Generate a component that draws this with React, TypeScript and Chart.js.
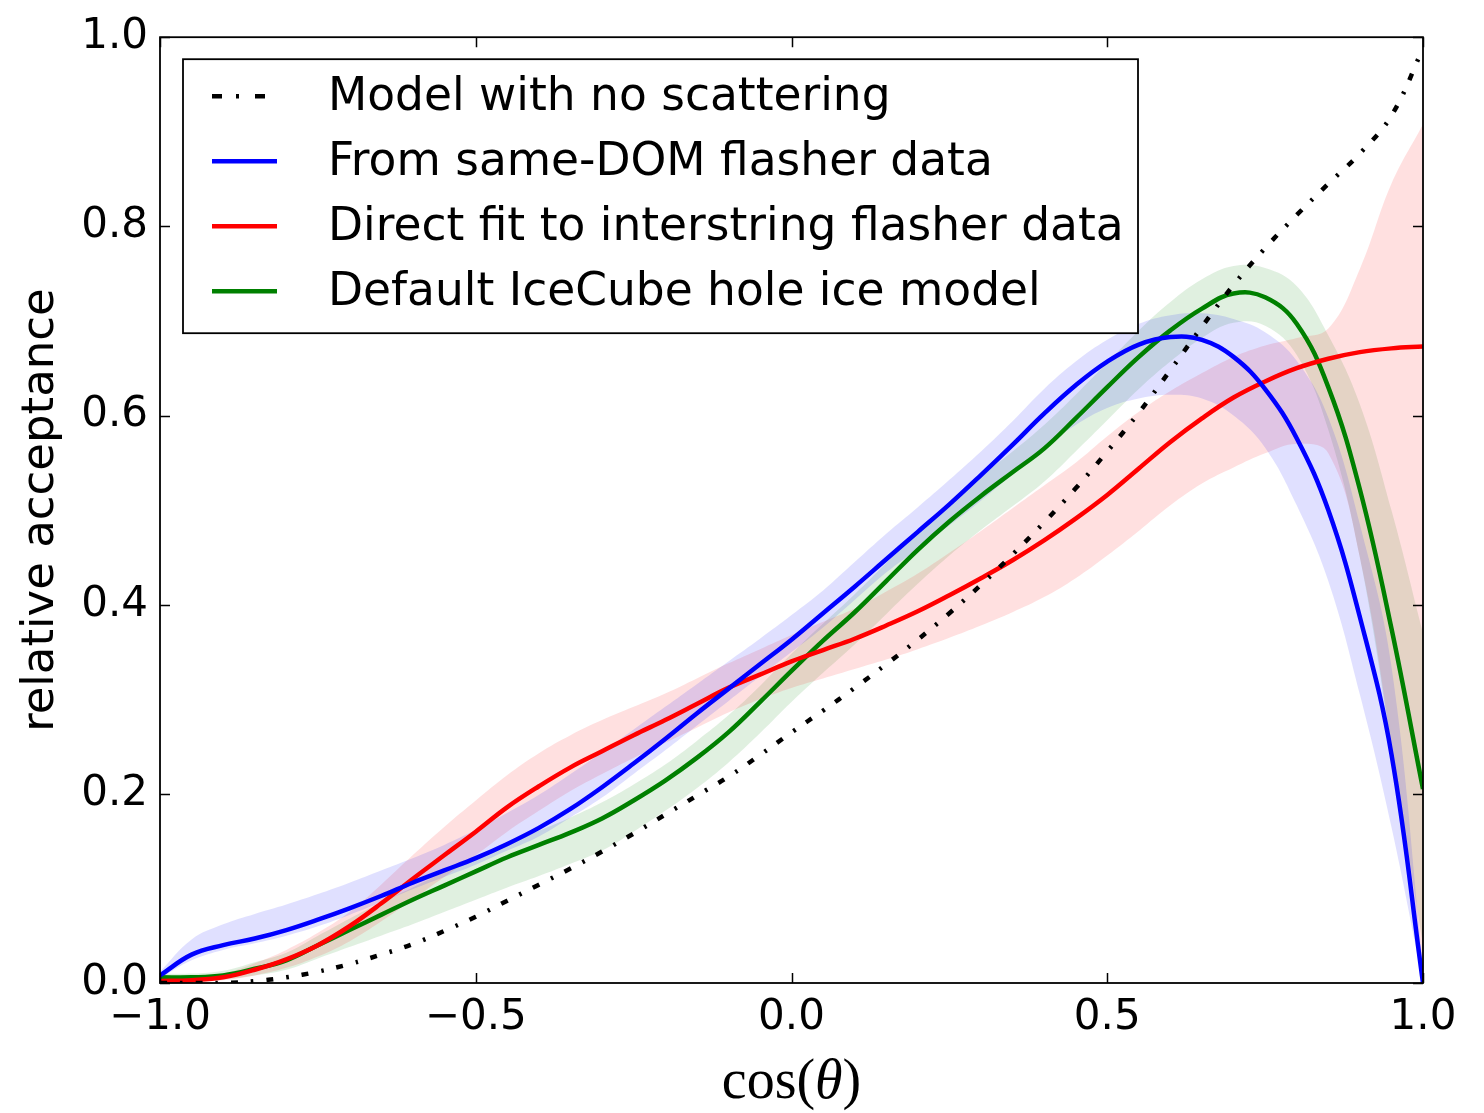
import React, { useEffect, useRef } from "react";
import { Chart, registerables } from "chart.js";

Chart.register(...registerables);

// ---- data ----
const COS_THETA = [
  -1.0, -0.95, -0.9, -0.85, -0.8, -0.75, -0.7, -0.65, -0.6, -0.55, -0.5,
  -0.45, -0.4, -0.35, -0.3, -0.25, -0.2, -0.15, -0.1, -0.05, 0.0,
  0.05, 0.1, 0.15, 0.2, 0.25, 0.3, 0.35, 0.4, 0.45, 0.5,
  0.55, 0.6, 0.65, 0.7, 0.75, 0.8, 0.85, 0.9, 0.95, 1.0,
];

const NO_SCATTER = [
  0.0, 0.0, 0.0, 0.002, 0.006, 0.012, 0.02, 0.03, 0.041, 0.055, 0.07,
  0.087, 0.104, 0.121, 0.139, 0.158, 0.178, 0.198, 0.218, 0.241, 0.265,
  0.288, 0.312, 0.337, 0.363, 0.391, 0.421, 0.453, 0.487, 0.523, 0.562,
  0.603, 0.648, 0.694, 0.738, 0.777, 0.812, 0.845, 0.877, 0.917, 0.988,
];

const SAME_DOM = [
  0.008, 0.03, 0.04, 0.047, 0.056, 0.067, 0.079, 0.092, 0.106, 0.119, 0.132,
  0.147, 0.164, 0.184, 0.207, 0.232, 0.258, 0.285, 0.311, 0.337, 0.363,
  0.391, 0.419, 0.448, 0.477, 0.506, 0.537, 0.569, 0.602, 0.632, 0.657,
  0.675, 0.683, 0.68, 0.662, 0.628, 0.576, 0.5, 0.387, 0.242, 0.0,
];
const SAME_DOM_LO = [
  0.005, 0.024, 0.035, 0.042, 0.05, 0.06, 0.072, 0.085, 0.099, 0.112, 0.125,
  0.14, 0.155, 0.175, 0.196, 0.221, 0.246, 0.272, 0.298, 0.324, 0.35,
  0.376, 0.405, 0.434, 0.459, 0.484, 0.51, 0.538, 0.566, 0.59, 0.608,
  0.618, 0.622, 0.618, 0.6, 0.566, 0.505, 0.425, 0.305, 0.165, 0.0,
];
const SAME_DOM_HI = [
  0.012, 0.046, 0.062, 0.073, 0.083, 0.094, 0.106, 0.119, 0.132, 0.146, 0.162,
  0.18, 0.199, 0.221, 0.244, 0.268, 0.292, 0.316, 0.34, 0.364, 0.389,
  0.415, 0.445, 0.475, 0.503, 0.532, 0.562, 0.594, 0.628, 0.657, 0.68,
  0.697, 0.706, 0.708, 0.702, 0.688, 0.658, 0.598, 0.485, 0.335, 0.02,
];

const DIRECT_FIT = [
  0.002, 0.003, 0.006, 0.014, 0.025, 0.04, 0.06, 0.084, 0.11, 0.135, 0.16,
  0.186, 0.208, 0.228, 0.245, 0.262, 0.278, 0.295, 0.312, 0.326, 0.34,
  0.352, 0.364, 0.378, 0.393, 0.41, 0.428, 0.447, 0.468, 0.491, 0.516,
  0.544, 0.572, 0.597, 0.619, 0.636, 0.65, 0.66, 0.667, 0.671, 0.673,
];
const DIRECT_FIT_LO = [
  0.0, 0.001, 0.003, 0.008, 0.016, 0.028, 0.044, 0.065, 0.088, 0.112, 0.135,
  0.16, 0.182, 0.203, 0.221, 0.238, 0.254, 0.27, 0.286, 0.3, 0.312,
  0.322, 0.332, 0.342, 0.353, 0.365, 0.378, 0.392, 0.408, 0.428, 0.452,
  0.478, 0.505, 0.528, 0.545, 0.56, 0.57, 0.56, 0.45, 0.25, 0.0,
];
const DIRECT_FIT_HI = [
  0.004, 0.006, 0.01, 0.021, 0.035, 0.053, 0.075, 0.104, 0.135, 0.165, 0.193,
  0.22, 0.243, 0.262, 0.278, 0.292, 0.306, 0.322, 0.338, 0.353, 0.368,
  0.382, 0.396, 0.414, 0.433, 0.455, 0.478, 0.502, 0.526, 0.55, 0.578,
  0.604, 0.626, 0.645, 0.662, 0.674, 0.682, 0.692, 0.755, 0.845, 0.908,
];

const DEFAULT_HOLE_ICE = [
  0.006, 0.006, 0.008, 0.015, 0.024, 0.04, 0.056, 0.072, 0.088, 0.103, 0.118,
  0.133, 0.146, 0.159, 0.174, 0.193, 0.214, 0.238, 0.265, 0.297, 0.33,
  0.362, 0.392, 0.425, 0.458, 0.488, 0.515, 0.54, 0.565, 0.597, 0.63,
  0.662, 0.69, 0.713, 0.729, 0.725, 0.697, 0.63, 0.522, 0.375, 0.205,
];
const DEFAULT_HOLE_ICE_LO = [
  0.003, 0.003, 0.004, 0.008, 0.014, 0.026, 0.038, 0.05, 0.062, 0.075, 0.088,
  0.101, 0.113, 0.126, 0.14, 0.16, 0.182, 0.206, 0.233, 0.264, 0.297,
  0.328, 0.358, 0.39, 0.422, 0.452, 0.479, 0.504, 0.53, 0.562, 0.595,
  0.628, 0.657, 0.682, 0.698, 0.695, 0.664, 0.585, 0.45, 0.25, 0.04,
];
const DEFAULT_HOLE_ICE_HI = [
  0.01, 0.01, 0.013, 0.022, 0.032, 0.05, 0.068, 0.085, 0.101, 0.117, 0.132,
  0.147, 0.161, 0.175, 0.191, 0.21, 0.231, 0.256, 0.283, 0.314, 0.348,
  0.38, 0.411, 0.444, 0.477, 0.508, 0.536, 0.562, 0.59, 0.622, 0.656,
  0.69, 0.72, 0.744, 0.758, 0.756, 0.737, 0.685, 0.612, 0.5, 0.37,
];

const X_TICKS = [-1.0, -0.5, 0.0, 0.5, 1.0];
const Y_TICKS = [0.0, 0.2, 0.4, 0.6, 0.8, 1.0];
const LEGEND_LABELS = [
  "Model with no scattering",
  "From same-DOM flasher data",
  "Direct fit to interstring flasher data",
  "Default IceCube hole ice model",
];
const Y_TITLE = "relative acceptance";

// ---- styles ----
const BLACK = "#000000";
const BLUE = "rgb(0,0,255)";
const RED = "rgb(255,0,0)";
const GREEN = "rgb(0,128,0)";
const BLUE_BAND = "rgba(0,0,255,0.12)";
const RED_BAND = "rgba(255,0,0,0.12)";
const GREEN_BAND = "rgba(0,128,0,0.12)";
const DASH_DOT = [7, 13, 2.5, 13];
const SANS = "'DejaVu Sans', sans-serif";
const LINE_W = 4.5;

const pts = (ys: number[]) => ys.map((y, i) => ({ x: COS_THETA[i], y }));

const fmt = (v: number) => (v < 0 ? "\u2212" + Math.abs(v).toFixed(1) : v.toFixed(1));

const decorPlugin = {
  id: "decor",
  afterDraw(chart: any) {
    const { ctx, chartArea: a, scales } = chart;
    ctx.save();
    // frame
    ctx.strokeStyle = "#000";
    ctx.lineWidth = 1.8;
    ctx.strokeRect(a.left, a.top, a.right - a.left, a.bottom - a.top);
    // inward ticks on all sides
    ctx.lineWidth = 1.5;
    const TL = 10;
    ctx.beginPath();
    X_TICKS.forEach((v) => {
      const px = Math.round(scales.x.getPixelForValue(v)) + 0.5;
      ctx.moveTo(px, a.bottom);
      ctx.lineTo(px, a.bottom - TL);
      ctx.moveTo(px, a.top);
      ctx.lineTo(px, a.top + TL);
    });
    Y_TICKS.forEach((v) => {
      const py = Math.round(scales.y.getPixelForValue(v)) + 0.5;
      ctx.moveTo(a.left, py);
      ctx.lineTo(a.left + TL, py);
      ctx.moveTo(a.right, py);
      ctx.lineTo(a.right - TL, py);
    });
    ctx.stroke();

    // legend
    const L = a.left + 23;
    const T = a.top + 22;
    const W = 955;
    const H = 274;
    ctx.fillStyle = "#fff";
    ctx.fillRect(L, T, W, H);
    ctx.strokeStyle = "#000";
    ctx.lineWidth = 1.8;
    ctx.strokeRect(L, T, W, H);
    const colors = [BLACK, BLUE, RED, GREEN];
    LEGEND_LABELS.forEach((label, i) => {
      const y = T + 37 + i * 65;
      ctx.beginPath();
      ctx.strokeStyle = colors[i];
      ctx.lineWidth = LINE_W;
      ctx.lineCap = "butt";
      ctx.setLineDash(i === 0 ? [10, 14, 3, 16] : []);
      ctx.moveTo(L + 29, y);
      ctx.lineTo(L + 94, y);
      ctx.stroke();
      ctx.setLineDash([]);
      ctx.fillStyle = "#000";
      ctx.font = "45.5px " + SANS;
      ctx.textAlign = "left";
      ctx.textBaseline = "middle";
      ctx.fillText(label, L + 145, y + 2);
    });

    // x-axis title: cos(θ)
    const cx = (a.left + a.right) / 2;
    const base = 1098;
    ctx.fillStyle = "#000";
    ctx.textBaseline = "alphabetic";
    ctx.textAlign = "left";
    const f1 = "56px 'Liberation Serif', 'DejaVu Serif', serif";
    const f2 = "italic 56px 'Liberation Serif', 'DejaVu Serif', serif";
    ctx.font = f1;
    const w1 = ctx.measureText("cos(").width;
    const w3 = ctx.measureText(")").width;
    ctx.font = f2;
    const w2 = ctx.measureText("\u03b8").width;
    const x0 = cx - (w1 + w2 + w3) / 2;
    ctx.font = f1;
    ctx.fillText("cos(", x0, base);
    ctx.font = f2;
    ctx.fillText("\u03b8", x0 + w1, base);
    ctx.font = f1;
    ctx.fillText(")", x0 + w1 + w2, base);
    ctx.restore();
  },
};

export default function App() {
  const ref = useRef<HTMLCanvasElement | null>(null);

  useEffect(() => {
    if (!ref.current) return;
    const lineDs = (label: string, data: number[], color: string, extra: any = {}) => ({
      label,
      data: pts(data),
      borderColor: color,
      backgroundColor: color,
      borderWidth: LINE_W,
      pointRadius: 0,
      fill: false,
      tension: 0.4,
      order: 0,
      ...extra,
    });
    const bandDs = (data: number[], color: string, fill: any) => ({
      label: "",
      data: pts(data),
      borderWidth: 0,
      borderColor: "rgba(0,0,0,0)",
      backgroundColor: color,
      pointRadius: 0,
      fill,
      tension: 0.4,
      order: 1,
    });

    const chart = new Chart(ref.current, {
      type: "line",
      data: {
        datasets: [
          lineDs(LEGEND_LABELS[0], NO_SCATTER, BLACK, { borderWidth: 4.5, borderDash: DASH_DOT, borderCapStyle: "butt" }),
          lineDs(LEGEND_LABELS[1], SAME_DOM, BLUE),
          lineDs(LEGEND_LABELS[2], DIRECT_FIT, RED),
          lineDs(LEGEND_LABELS[3], DEFAULT_HOLE_ICE, GREEN),
          bandDs(SAME_DOM_LO, BLUE_BAND, false),
          bandDs(SAME_DOM_HI, BLUE_BAND, "-1"),
          bandDs(DIRECT_FIT_LO, RED_BAND, false),
          bandDs(DIRECT_FIT_HI, RED_BAND, "-1"),
          bandDs(DEFAULT_HOLE_ICE_LO, GREEN_BAND, false),
          bandDs(DEFAULT_HOLE_ICE_HI, GREEN_BAND, "-1"),
        ] as any,
      },
      options: {
        animation: false,
        responsive: true,
        maintainAspectRatio: false,
        layout: { padding: { top: 36, right: 61, left: 0, bottom: 0 } },
        plugins: {
          legend: { display: false },
          tooltip: { enabled: false },
        },
        scales: {
          x: {
            type: "linear",
            min: -1,
            max: 1,
            grid: { display: false, drawTicks: false },
            border: { display: false },
            afterBuildTicks: (s: any) => {
              s.ticks = X_TICKS.map((v) => ({ value: v }));
            },
            afterFit: (s: any) => {
              s.height = 130;
            },
            ticks: {
              color: "#000",
              padding: 10,
              maxRotation: 0,
              autoSkip: false,
              font: { family: SANS, size: 42 },
              callback: (v: any) => fmt(Number(v)),
            },
          },
          y: {
            type: "linear",
            min: 0,
            max: 1,
            grid: { display: false, drawTicks: false },
            border: { display: false },
            afterBuildTicks: (s: any) => {
              s.ticks = Y_TICKS.map((v) => ({ value: v }));
            },
            afterFit: (s: any) => {
              s.width = 160;
            },
            title: {
              display: true,
              text: Y_TITLE,
              color: "#000",
              font: { family: SANS, size: 45 },
              padding: { top: 14, bottom: 0 },
            },
            ticks: {
              color: "#000",
              padding: 12,
              autoSkip: false,
              font: { family: SANS, size: 42 },
              callback: (v: any) => fmt(Number(v)),
            },
          },
        },
      } as any,
      plugins: [decorPlugin],
    });
    return () => chart.destroy();
  }, []);

  return (
    <div style={{ position: "absolute", left: 0, top: 0, width: 1484, height: 1113, background: "#fff" }}>
      <canvas ref={ref} />
    </div>
  );
}
